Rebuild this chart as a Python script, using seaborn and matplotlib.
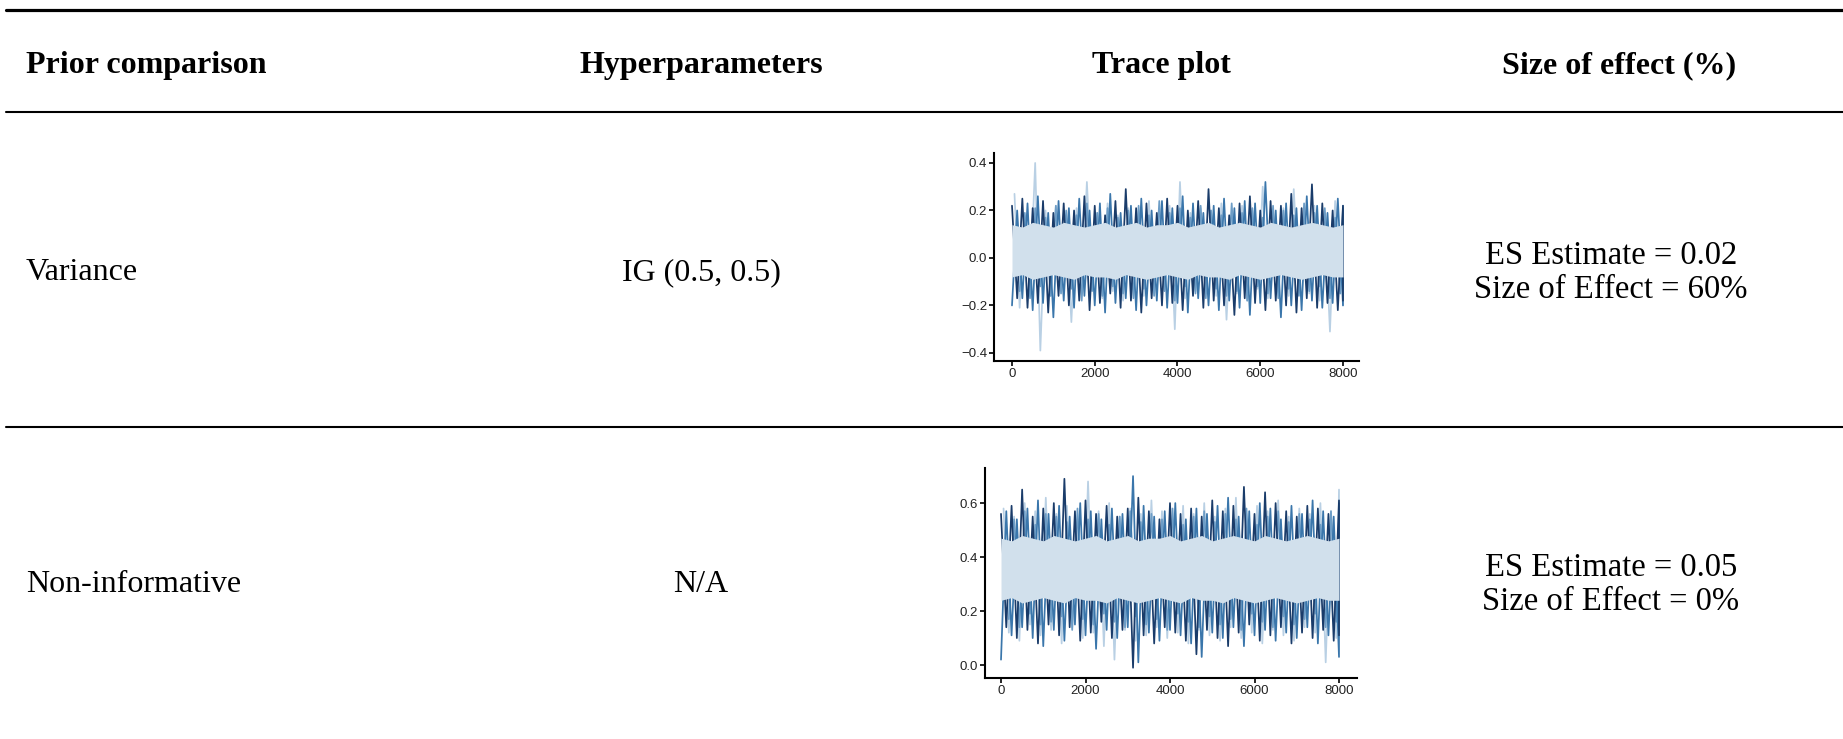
import numpy as np
import pandas as pd
import matplotlib
matplotlib.use("Agg")
import matplotlib.pyplot as plt
import seaborn as sns
from matplotlib.lines import Line2D

# ---------------- table content ----------------
headers = ["Prior comparison", "Hyperparameters", "Trace plot", "Size of effect (%)"]
priors = ["Variance", "Non-informative"]
hyperparams = ["IG (0.5, 0.5)", "N/A"]
es_estimates = ["0.02", "0.05"]
effect_sizes = ["60%", "0%"]

# ---------------- trace plot data (peaks / troughs read per 250 iterations) ----------------
bin_iters = list(range(0, 8001, 250))
x_ticks = [0, 2000, 4000, 6000, 8000]
y_ticks_1 = [-0.4, -0.2, 0.0, 0.2, 0.4]
y_ticks_2 = [0.0, 0.2, 0.4, 0.6]

dark_hi_1 = [0.22, 0.25, 0.21, 0.24, 0.19, 0.23, 0.20, 0.26, 0.22, 0.18, 0.24, 0.29, 0.21, 0.23, 0.19, 0.25, 0.22,
             0.20, 0.24, 0.29, 0.21, 0.18, 0.23, 0.26, 0.20, 0.24, 0.22, 0.27, 0.21, 0.31, 0.23, 0.20, 0.22]
dark_lo_1 = [-0.17, -0.21, -0.19, -0.23, -0.16, -0.20, -0.18, -0.22, -0.19, -0.15, -0.21, -0.18, -0.23, -0.17, -0.20,
             -0.19, -0.22, -0.16, -0.21, -0.18, -0.20, -0.24, -0.17, -0.19, -0.22, -0.18, -0.20, -0.23, -0.17, -0.21,
             -0.19, -0.22, -0.18]
mid_hi_1 = [0.20, 0.23, 0.26, 0.19, 0.24, 0.21, 0.25, 0.20, 0.23, 0.27, 0.19, 0.22, 0.25, 0.20, 0.24, 0.21, 0.26,
            0.23, 0.19, 0.22, 0.25, 0.21, 0.24, 0.23, 0.32, 0.20, 0.23, 0.21, 0.26, 0.22, 0.19, 0.25, 0.21]
mid_lo_1 = [-0.20, -0.17, -0.22, -0.19, -0.25, -0.18, -0.21, -0.16, -0.20, -0.23, -0.19, -0.17, -0.22, -0.20, -0.18,
            -0.21, -0.19, -0.23, -0.17, -0.20, -0.22, -0.18, -0.21, -0.24, -0.19, -0.17, -0.25, -0.20, -0.22, -0.18,
            -0.21, -0.19, -0.20]
lmid_hi_1 = [0.19, 0.21, 0.17, 0.22, 0.20, 0.18, 0.23, 0.19, 0.21, 0.17, 0.20, 0.22, 0.18, 0.24, 0.19, 0.21, 0.17,
             0.22, 0.20, 0.18, 0.23, 0.19, 0.21, 0.17, 0.22, 0.20, 0.18, 0.23, 0.19, 0.21, 0.17, 0.22, 0.20]
lmid_lo_1 = [-0.14, -0.17, -0.12, -0.16, -0.15, -0.13, -0.18, -0.14, -0.16, -0.12, -0.15, -0.17, -0.13, -0.16, -0.14,
             -0.18, -0.12, -0.15, -0.17, -0.13, -0.16, -0.14, -0.18, -0.12, -0.15, -0.17, -0.13, -0.16, -0.14, -0.12,
             -0.17, -0.15, -0.13]
pale_hi_1 = [0.27, 0.18, 0.40, 0.20, 0.22, 0.17, 0.21, 0.32, 0.19, 0.23, 0.18, 0.21, 0.20, 0.24, 0.18, 0.22, 0.32,
             0.19, 0.21, 0.20, 0.23, 0.18, 0.22, 0.20, 0.30, 0.19, 0.21, 0.29, 0.20, 0.22, 0.18, 0.24, 0.20]
pale_lo_1 = [-0.21, -0.14, -0.39, -0.16, -0.13, -0.27, -0.15, -0.12, -0.17, -0.14, -0.18, -0.13, -0.16, -0.15, -0.12,
             -0.30, -0.17, -0.14, -0.13, -0.16, -0.26, -0.15, -0.18, -0.13, -0.17, -0.14, -0.16, -0.12, -0.15, -0.18,
             -0.31, -0.14, -0.20]
core_hi_1 = [0.14, 0.13, 0.15, 0.14, 0.13, 0.15, 0.14, 0.13, 0.14, 0.15, 0.13, 0.14, 0.15, 0.13, 0.14, 0.14, 0.15,
             0.13, 0.14, 0.15, 0.13, 0.14, 0.15, 0.14, 0.13, 0.15, 0.14, 0.13, 0.14, 0.15, 0.14, 0.13, 0.14]
core_lo_1 = [-0.08, -0.07, -0.09, -0.08, -0.07, -0.08, -0.09, -0.07, -0.08, -0.08, -0.09, -0.07, -0.08, -0.09, -0.08,
             -0.07, -0.08, -0.09, -0.07, -0.08, -0.08, -0.09, -0.07, -0.08, -0.09, -0.08, -0.07, -0.08, -0.09, -0.08,
             -0.07, -0.08, -0.08]

dark_hi_2 = [0.56, 0.59, 0.65, 0.55, 0.58, 0.60, 0.69, 0.57, 0.61, 0.56, 0.59, 0.55, 0.58, 0.62, 0.57, 0.54, 0.60,
             0.56, 0.58, 0.55, 0.61, 0.57, 0.59, 0.66, 0.56, 0.64, 0.60, 0.57, 0.55, 0.59, 0.58, 0.56, 0.61]
dark_lo_2 = [0.14, 0.10, 0.13, 0.08, 0.15, 0.11, 0.14, 0.09, 0.12, 0.16, 0.10, 0.13, -0.01, 0.11, 0.08, 0.14, 0.12,
             0.09, 0.04, 0.13, 0.10, 0.07, 0.12, 0.15, 0.09, 0.11, 0.14, 0.08, 0.12, 0.10, 0.13, 0.09, 0.11]
mid_hi_2 = [0.57, 0.54, 0.58, 0.61, 0.56, 0.59, 0.55, 0.60, 0.57, 0.54, 0.58, 0.56, 0.70, 0.59, 0.55, 0.57, 0.60,
            0.54, 0.58, 0.56, 0.59, 0.62, 0.55, 0.57, 0.60, 0.58, 0.54, 0.59, 0.56, 0.61, 0.57, 0.55, 0.60]
mid_lo_2 = [0.02, 0.11, 0.14, 0.10, 0.07, 0.13, 0.09, 0.15, 0.11, 0.06, 0.13, 0.10, 0.14, 0.01, 0.12, 0.09, 0.13,
            0.11, 0.08, 0.03, 0.12, 0.10, 0.14, 0.07, 0.11, 0.13, 0.09, 0.12, 0.10, 0.14, 0.08, 0.11, 0.03]
lmid_hi_2 = [0.54, 0.57, 0.52, 0.56, 0.55, 0.53, 0.58, 0.54, 0.56, 0.52, 0.55, 0.57, 0.53, 0.56, 0.54, 0.58, 0.52,
             0.55, 0.57, 0.53, 0.56, 0.54, 0.58, 0.52, 0.55, 0.57, 0.53, 0.56, 0.54, 0.52, 0.57, 0.55, 0.53]
lmid_lo_2 = [0.17, 0.14, 0.19, 0.15, 0.16, 0.18, 0.13, 0.17, 0.15, 0.19, 0.16, 0.14, 0.18, 0.15, 0.17, 0.13, 0.19,
             0.16, 0.14, 0.18, 0.15, 0.17, 0.13, 0.19, 0.16, 0.14, 0.18, 0.15, 0.17, 0.19, 0.14, 0.16, 0.18]
pale_hi_2 = [0.58, 0.55, 0.60, 0.57, 0.62, 0.56, 0.59, 0.54, 0.68, 0.57, 0.60, 0.55, 0.58, 0.56, 0.61, 0.57, 0.54,
             0.59, 0.56, 0.60, 0.55, 0.58, 0.62, 0.56, 0.59, 0.57, 0.61, 0.55, 0.58, 0.56, 0.60, 0.57, 0.65]
pale_lo_2 = [0.12, 0.09, 0.15, 0.11, 0.13, 0.08, 0.14, 0.10, 0.12, 0.07, 0.02, 0.13, 0.09, 0.11, 0.14, 0.10, 0.12,
             0.08, 0.13, 0.11, 0.09, 0.14, 0.10, 0.12, 0.08, 0.13, 0.11, 0.09, 0.14, 0.12, 0.01, 0.10, 0.12]
core_hi_2 = [0.47, 0.46, 0.48, 0.47, 0.46, 0.48, 0.47, 0.46, 0.47, 0.48, 0.46, 0.47, 0.48, 0.46, 0.47, 0.47, 0.48,
             0.46, 0.47, 0.48, 0.46, 0.47, 0.48, 0.47, 0.46, 0.48, 0.47, 0.46, 0.47, 0.48, 0.47, 0.46, 0.47]
core_lo_2 = [0.24, 0.25, 0.23, 0.24, 0.25, 0.24, 0.23, 0.25, 0.24, 0.24, 0.23, 0.25, 0.24, 0.23, 0.24, 0.25, 0.24,
             0.23, 0.25, 0.24, 0.24, 0.23, 0.25, 0.24, 0.23, 0.24, 0.25, 0.24, 0.23, 0.24, 0.25, 0.24, 0.24]

# ---------------- styling ----------------
sns.set_theme(style="ticks")
plt.rcParams["font.family"] = ["Liberation Sans", "DejaVu Sans"]
SERIF = ["Liberation Serif", "DejaVu Serif"]
chain_palette = {"pale": "#b9d0e4", "lmid": "#6d9dc6", "mid": "#3a76ab", "dark": "#1a3c6a"}
core_color = "#d1e0ec"

W, H = 1843, 739
fig = plt.figure(figsize=(W / 100, H / 100), dpi=100)
fig.patch.set_facecolor("white")


def fx(px):
    return px / W


def fy(py):
    return 1 - py / H


def zigzag(hi, lo, chain, offset, hi_first=True):
    rows = []
    for k, it in enumerate(bin_iters):
        a, b = (hi[k], lo[k]) if hi_first else (lo[k], hi[k])
        rows.append((min(it + offset, 8000), a, chain))
        rows.append((min(it + offset + 125, 8000), b, chain))
    return rows


def trace_panel(rect, chains, core_hi, core_lo, xlim, ylim, yticks):
    ax = fig.add_axes(rect)
    rows = []
    rows += zigzag(chains["pale"][0], chains["pale"][1], "pale", 60, True)
    rows += zigzag(chains["lmid"][0], chains["lmid"][1], "lmid", 185, False)
    rows += zigzag(chains["mid"][0], chains["mid"][1], "mid", 0, False)
    rows += zigzag(chains["dark"][0], chains["dark"][1], "dark", 0, True)
    df = pd.DataFrame(rows, columns=["iteration", "value", "chain"])
    sns.lineplot(data=df, x="iteration", y="value", hue="chain", hue_order=["pale", "lmid", "mid", "dark"],
                 palette=chain_palette, estimator=None, sort=False, legend=False, linewidth=1.25, ax=ax)
    ax.fill_between(bin_iters, core_lo, core_hi, color=core_color, lw=0, zorder=3)
    ax.set_xlim(*xlim)
    ax.set_ylim(*ylim)
    ax.set_xticks(x_ticks)
    ax.set_yticks(yticks)
    ax.set_yticklabels([f"{v:.1f}".replace("-", "\u2212") for v in yticks])
    ax.set_xlabel("")
    ax.set_ylabel("")
    ax.set_facecolor("white")
    sns.despine(ax=ax)
    for s in ["left", "bottom"]:
        ax.spines[s].set_linewidth(1.5)
        ax.spines[s].set_color("black")
    ax.tick_params(axis="both", length=3.5, width=1.2, color="black", labelsize=9.5,
                   labelcolor="#222222", pad=1.5)
    return ax


trace_panel([fx(994), fy(361), fx(1359) - fx(994), fy(153) - fy(361)],
            {"pale": (pale_hi_1, pale_lo_1), "lmid": (lmid_hi_1, lmid_lo_1),
             "mid": (mid_hi_1, mid_lo_1), "dark": (dark_hi_1, dark_lo_1)},
            core_hi_1, core_lo_1, (-435, 8387), (-0.434, 0.442), y_ticks_1)
trace_panel([fx(985), fy(678), fx(1357) - fx(985), fy(468) - fy(678)],
            {"pale": (pale_hi_2, pale_lo_2), "lmid": (lmid_hi_2, lmid_lo_2),
             "mid": (mid_hi_2, mid_lo_2), "dark": (dark_hi_2, dark_lo_2)},
            core_hi_2, core_lo_2, (-379, 8426), (-0.048, 0.73), y_ticks_2)

# ---------------- table rules ----------------
for py, lw in [(9.5, 2.3), (111.5, 1.5), (427, 1.5)]:
    fig.add_artist(Line2D([fx(6), 1.0], [fy(py), fy(py)], color="black", lw=lw,
                          transform=fig.transFigure))

# ---------------- table text ----------------
col_x = [fx(26), fx(701), fx(1161), fx(1619)]
header_y = fy(65.5)
fig.text(col_x[0], header_y, headers[0], ha="left", va="center", fontsize=23,
         fontweight="bold", family=SERIF, color="black")
for i in range(1, 4):
    fig.text(col_x[i], header_y, headers[i], ha="center", va="center", fontsize=23,
             fontweight="bold", family=SERIF, color="black")

row_y = [fy(272.5), fy(584.5)]
es_y = [(fy(255.5), fy(289.5)), (fy(567.5), fy(602))]
for r in range(2):
    fig.text(col_x[0], row_y[r], priors[r], ha="left", va="center", fontsize=23, family=SERIF, color="black")
    fig.text(col_x[1], row_y[r], hyperparams[r], ha="center", va="center", fontsize=23, family=SERIF,
             color="black")
    fig.text(fx(1611), es_y[r][0], f"ES Estimate = {es_estimates[r]}", ha="center", va="center",
             fontsize=23.5, family=SERIF, color="black")
    fig.text(fx(1611), es_y[r][1], f"Size of Effect = {effect_sizes[r]}", ha="center", va="center",
             fontsize=23.5, family=SERIF, color="black")

fig.savefig("out.png", dpi=100, facecolor="white")
